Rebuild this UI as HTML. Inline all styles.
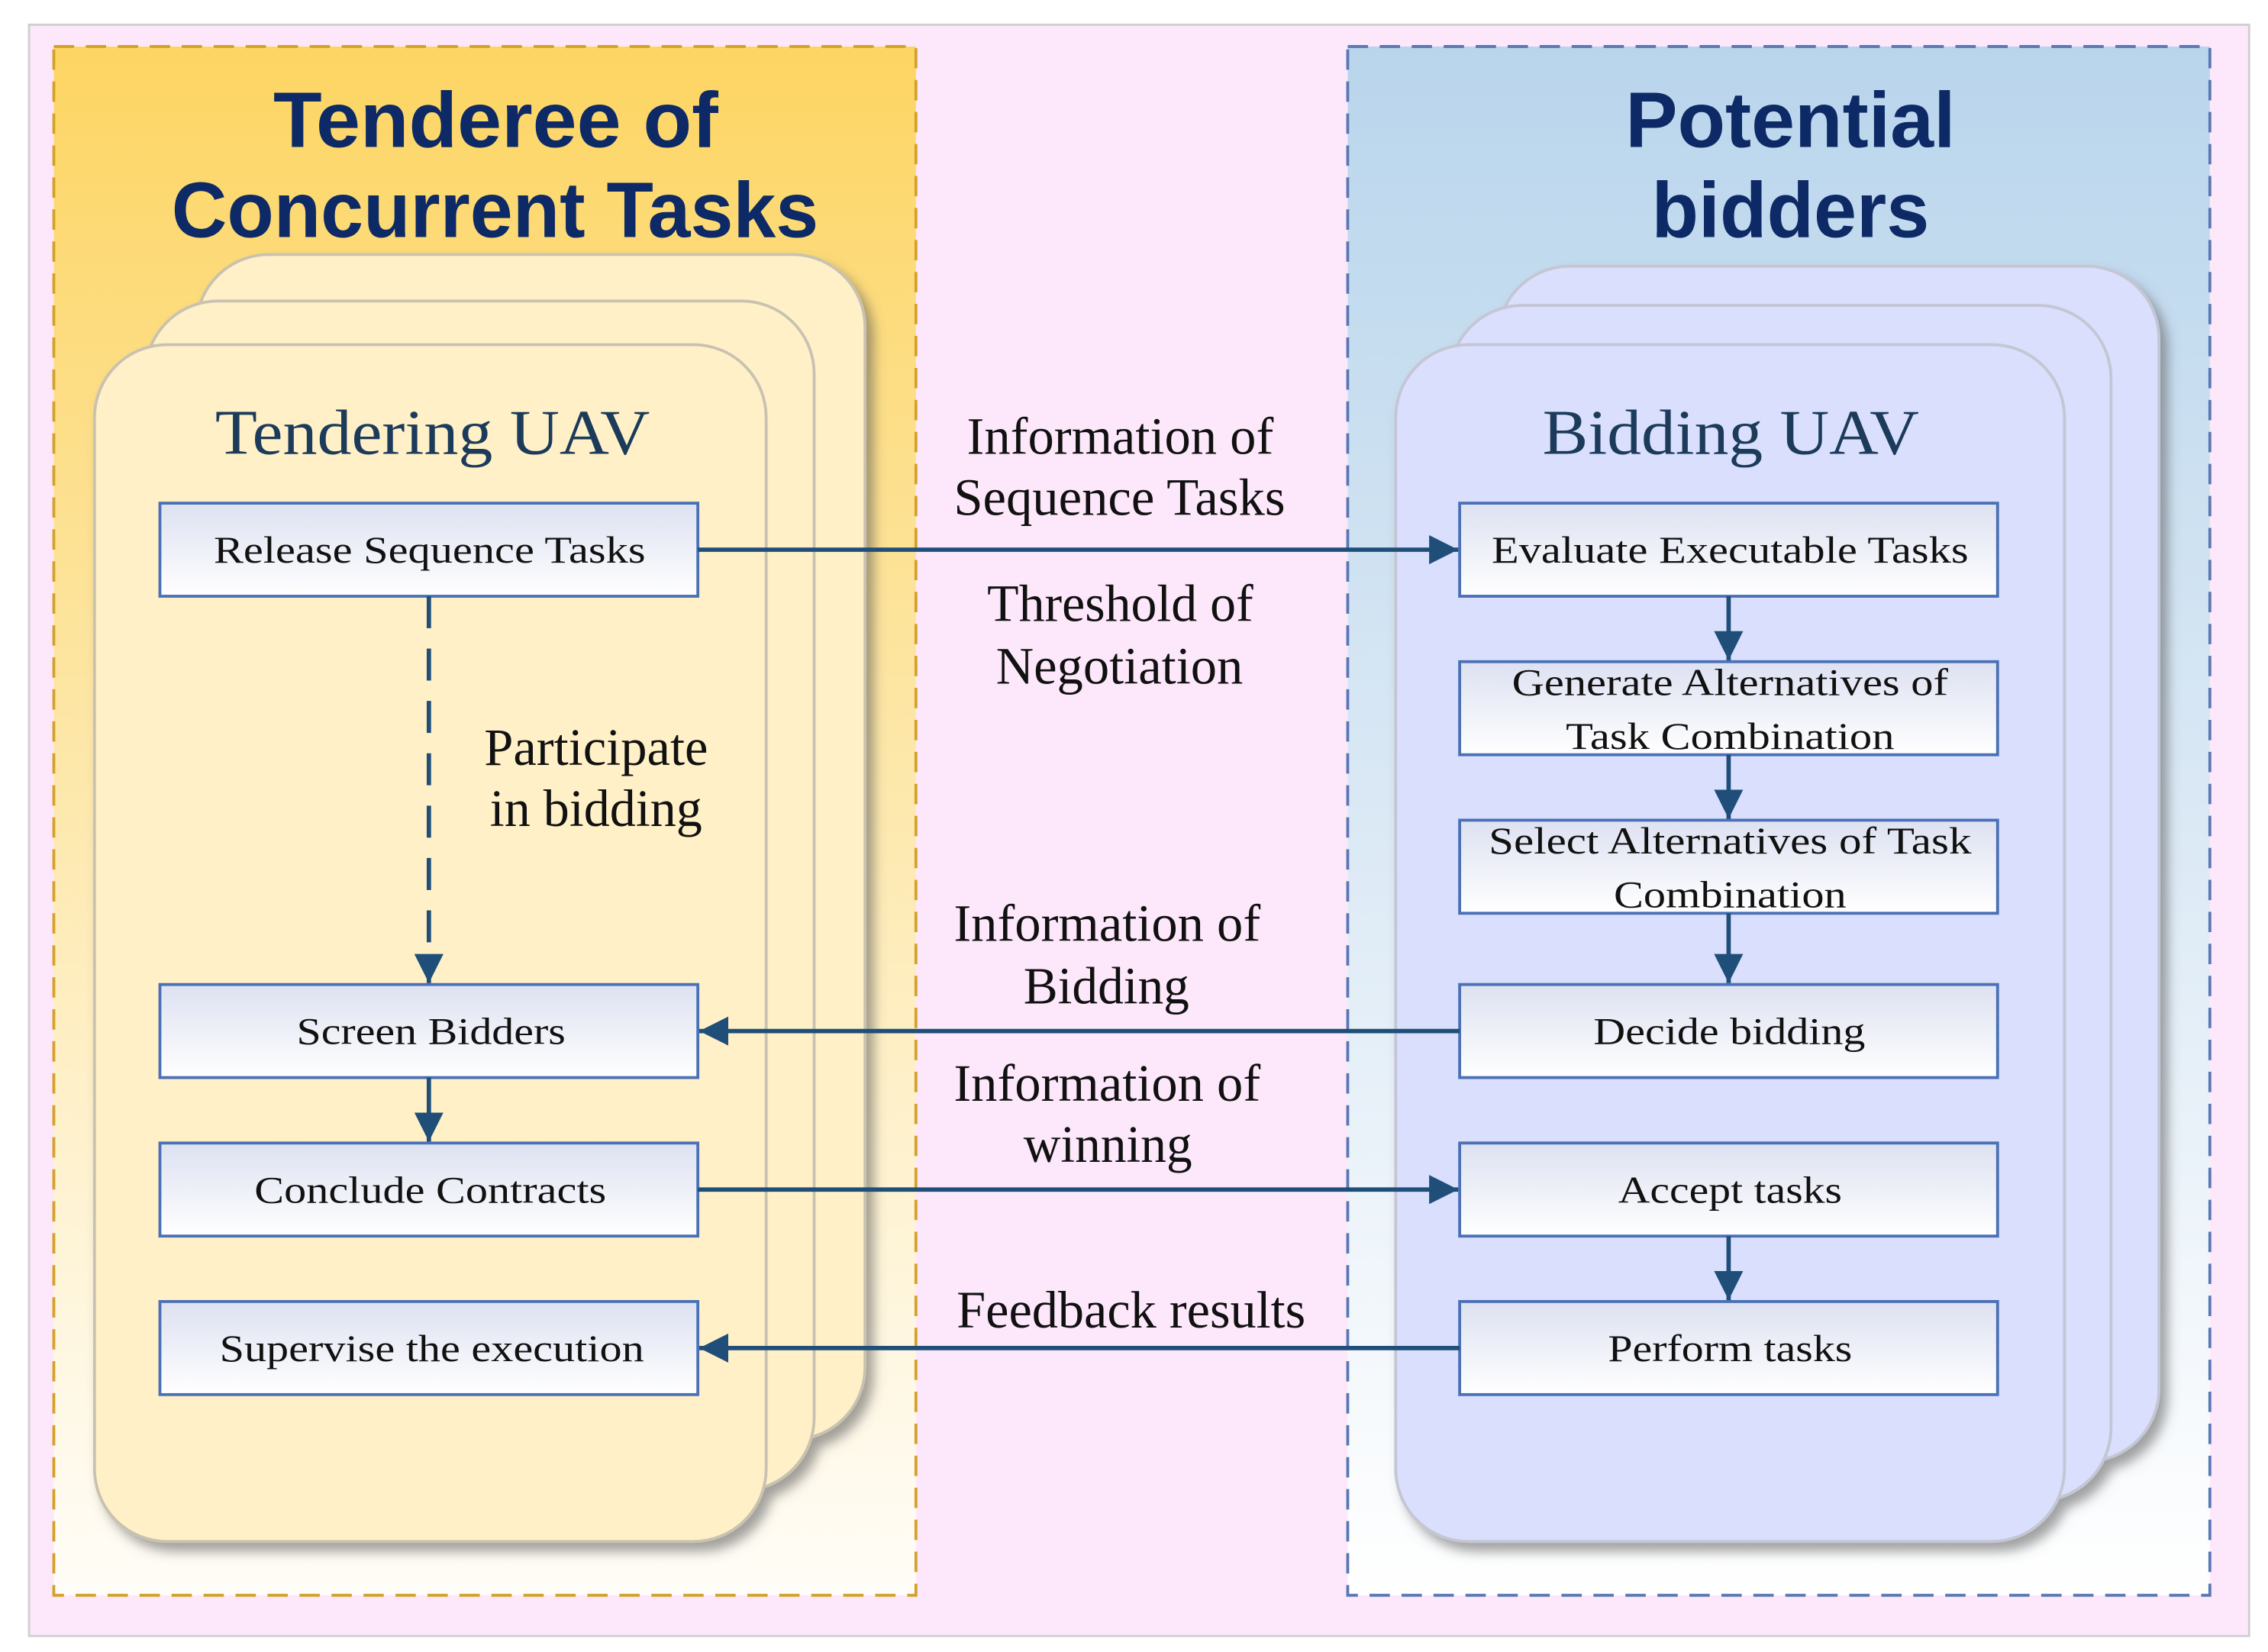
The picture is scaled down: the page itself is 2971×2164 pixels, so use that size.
<!DOCTYPE html>
<html><head><meta charset="utf-8"><style>
html,body{margin:0;padding:0;background:#fff;}
svg{display:block;}
.b{font-family:"Liberation Serif",serif;fill:#111;}
</style></head><body>
<svg width="2971" height="2164" viewBox="0 0 1560 1136" preserveAspectRatio="none" xmlns="http://www.w3.org/2000/svg">
<defs>
<linearGradient id="gy" x1="0" y1="0" x2="0" y2="1"><stop offset="0" stop-color="#fdd563"/><stop offset="0.45" stop-color="#fde7a8"/><stop offset="1" stop-color="#fffdf8"/></linearGradient>
<linearGradient id="gb" x1="0" y1="0" x2="0" y2="1"><stop offset="0" stop-color="#b9d5ec"/><stop offset="0.5" stop-color="#dbe9f5"/><stop offset="1" stop-color="#ffffff"/></linearGradient>
<linearGradient id="gbox" x1="0" y1="0" x2="0" y2="1"><stop offset="0" stop-color="#dde1f1"/><stop offset="1" stop-color="#ffffff"/></linearGradient>
<filter id="sh" x="-10%" y="-10%" width="130%" height="130%"><feDropShadow dx="5" dy="6" stdDeviation="4" flood-color="#555" flood-opacity="0.55"/></filter>
<marker id="ar" markerWidth="10" markerHeight="10" refX="9" refY="5" orient="auto" markerUnits="userSpaceOnUse"><path d="M0,0 L10,5 L0,10 z" fill="#1f4e79"/></marker>
<marker id="ah" viewBox="0 0 10 10" markerWidth="20" markerHeight="20" refX="10" refY="5" orient="auto" markerUnits="userSpaceOnUse"><path d="M0,0 L10,5 L0,10 z" fill="#1f4e79"/></marker>
</defs>
<rect x="20" y="17" width="1527" height="1108" fill="#fde8fb" stroke="#cfcfcf" stroke-width="1.5"/>
<rect x="37" y="32" width="593" height="1065" fill="url(#gy)" stroke="#d4a12a" stroke-width="2" stroke-dasharray="14,8"/>
<rect x="927" y="32" width="593" height="1065" fill="url(#gb)" stroke="#5a78b2" stroke-width="2" stroke-dasharray="14,8"/>
<g font-family="'Liberation Sans',sans-serif" font-weight="bold" fill="#0d2a66" font-size="54">
<text x="188" y="101" textLength="306" lengthAdjust="spacingAndGlyphs">Tenderee of</text>
<text x="118" y="163" textLength="445" lengthAdjust="spacingAndGlyphs">Concurrent Tasks</text>
<text x="1118" y="101" textLength="227" lengthAdjust="spacingAndGlyphs">Potential</text>
<text x="1136" y="163" textLength="191" lengthAdjust="spacingAndGlyphs">bidders</text>
</g>
<g stroke="#c9c2b0" stroke-width="2" fill="#fff0c8" filter="url(#sh)">
<rect x="135" y="175" width="460" height="815" rx="50"/>
<rect x="100" y="207" width="460" height="818" rx="50"/>
<rect x="65" y="237" width="462" height="823" rx="50"/>
</g>
<g stroke="#c4c6d4" stroke-width="2" fill="#d9dffc" filter="url(#sh)">
<rect x="1030" y="183" width="455" height="822" rx="50"/>
<rect x="997" y="210" width="455" height="822" rx="50"/>
<rect x="960" y="237" width="460" height="823" rx="50"/>
</g>
<g font-family="'Liberation Serif',serif" fill="#1c3b5a" font-size="44">
<text x="148" y="312" textLength="299" lengthAdjust="spacingAndGlyphs">Tendering UAV</text>
<text x="1061" y="312" textLength="259" lengthAdjust="spacingAndGlyphs">Bidding UAV</text>
</g>
<g fill="url(#gbox)" stroke="#4a70b6" stroke-width="2">
<rect x="110" y="346" width="370" height="64"/>
<rect x="110" y="677" width="370" height="64"/>
<rect x="110" y="786" width="370" height="64"/>
<rect x="110" y="895" width="370" height="64"/>
<rect x="1004" y="346" width="370" height="64"/>
<rect x="1004" y="455" width="370" height="64"/>
<rect x="1004" y="564" width="370" height="64"/>
<rect x="1004" y="677" width="370" height="64"/>
<rect x="1004" y="786" width="370" height="64"/>
<rect x="1004" y="895" width="370" height="64"/>
</g>
<g class="b" font-size="26">
<text class="b" x="147" y="387" textLength="297" lengthAdjust="spacingAndGlyphs">Release Sequence Tasks</text>
<text class="b" x="204" y="718" textLength="185" lengthAdjust="spacingAndGlyphs">Screen Bidders</text>
<text class="b" x="175" y="827" textLength="242" lengthAdjust="spacingAndGlyphs">Conclude Contracts</text>
<text class="b" x="151" y="936" textLength="292" lengthAdjust="spacingAndGlyphs">Supervise the execution</text>
<text class="b" x="1026" y="387" textLength="328" lengthAdjust="spacingAndGlyphs">Evaluate Executable Tasks</text>
<text class="b" x="1040" y="478" textLength="300" lengthAdjust="spacingAndGlyphs">Generate Alternatives of</text>
<text class="b" x="1077" y="515" textLength="226" lengthAdjust="spacingAndGlyphs">Task Combination</text>
<text class="b" x="1024" y="587" textLength="332" lengthAdjust="spacingAndGlyphs">Select Alternatives of Task</text>
<text class="b" x="1110" y="624" textLength="160" lengthAdjust="spacingAndGlyphs">Combination</text>
<text class="b" x="1096" y="718" textLength="187" lengthAdjust="spacingAndGlyphs">Decide bidding</text>
<text class="b" x="1113" y="827" textLength="154" lengthAdjust="spacingAndGlyphs">Accept tasks</text>
<text class="b" x="1106" y="936" textLength="168" lengthAdjust="spacingAndGlyphs">Perform tasks</text>
</g>
<g stroke="#1f4e79" stroke-width="3" fill="none">
<line x1="480" y1="378" x2="1003" y2="378" marker-end="url(#ah)"/>
<line x1="1004" y1="709" x2="481" y2="709" marker-end="url(#ah)"/>
<line x1="480" y1="818" x2="1003" y2="818" marker-end="url(#ah)"/>
<line x1="1004" y1="927" x2="481" y2="927" marker-end="url(#ah)"/>
<line x1="295" y1="410" x2="295" y2="676" stroke-dasharray="22,14" marker-end="url(#ah)"/>
<line x1="295" y1="741" x2="295" y2="785" marker-end="url(#ah)"/>
<line x1="1189" y1="410" x2="1189" y2="454" marker-end="url(#ah)"/>
<line x1="1189" y1="519" x2="1189" y2="563" marker-end="url(#ah)"/>
<line x1="1189" y1="628" x2="1189" y2="676" marker-end="url(#ah)"/>
<line x1="1189" y1="850" x2="1189" y2="894" marker-end="url(#ah)"/>
</g>
<g font-size="36">
<text class="b" x="665" y="312" textLength="211" lengthAdjust="spacingAndGlyphs">Information of</text>
<text class="b" x="656" y="354" textLength="228" lengthAdjust="spacingAndGlyphs">Sequence Tasks</text>
<text class="b" x="679" y="427" textLength="183" lengthAdjust="spacingAndGlyphs">Threshold of</text>
<text class="b" x="685" y="470" textLength="170" lengthAdjust="spacingAndGlyphs">Negotiation</text>
<text class="b" x="333" y="526" textLength="154" lengthAdjust="spacingAndGlyphs">Participate</text>
<text class="b" x="337" y="568" textLength="146" lengthAdjust="spacingAndGlyphs">in bidding</text>
<text class="b" x="656" y="647" textLength="211" lengthAdjust="spacingAndGlyphs">Information of</text>
<text class="b" x="704" y="690" textLength="114" lengthAdjust="spacingAndGlyphs">Bidding</text>
<text class="b" x="656" y="757" textLength="211" lengthAdjust="spacingAndGlyphs">Information of</text>
<text class="b" x="704" y="799" textLength="116" lengthAdjust="spacingAndGlyphs">winning</text>
<text class="b" x="658" y="913" textLength="240" lengthAdjust="spacingAndGlyphs">Feedback results</text>
</g>
</svg>
</body></html>
